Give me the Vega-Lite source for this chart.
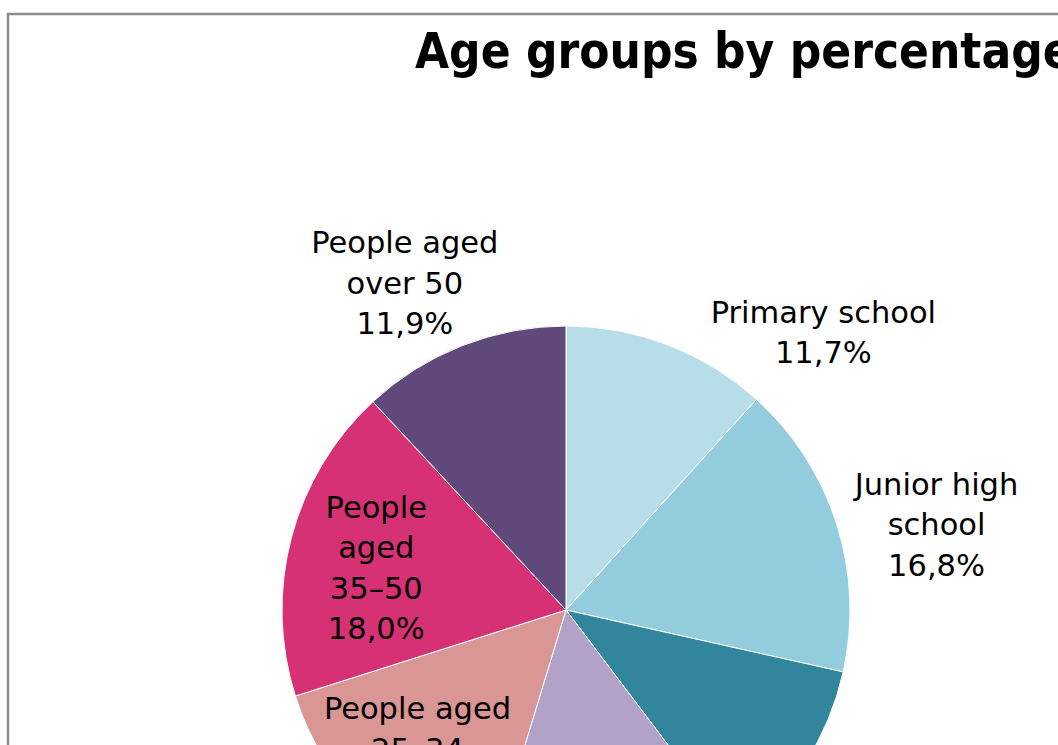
{
  "$schema": "https://vega.github.io/schema/vega-lite/v6.json",
  "autosize": {"type": "none"},
  "padding": {"left": 8, "top": 14, "right": -66, "bottom": -461},
  "width": 1116,
  "height": 1192,
  "background": "white",
  "view": {"stroke": "#8c8c8c", "strokeWidth": 2.5, "fill": "white"},
  "title": {
    "text": "Age groups by percentage",
    "anchor": "start",
    "frame": "group",
    "offset": 0,
    "dx": 407,
    "dy": 103,
    "baseline": "alphabetic",
    "font": "DejaVu Sans Condensed",
    "fontWeight": "bold",
    "fontSize": 49,
    "color": "black"
  },
  "data": {
    "values": [
      {"group": "Primary school", "value": 11.7, "label": "Primary school\n11,7%"},
      {"group": "Junior high school", "value": 16.8, "label": "Junior high\nschool\n16,8%"},
      {"group": "High school", "value": 11.2, "label": "High school\n11,2%"},
      {"group": "People aged 18–24", "value": 15.0, "label": "People aged\n18–24\n15,0%"},
      {"group": "People aged 25–34", "value": 15.4, "label": "People aged\n25–34\n15,4%"},
      {"group": "People aged 35–50", "value": 18.0, "label": "People\naged\n35–50\n18,0%"},
      {"group": "People aged over 50", "value": 11.9, "label": "People aged\nover 50\n11,9%"}
    ]
  },
  "transform": [{"window": [{"op": "row_number", "as": "idx"}]}],
  "encoding": {
    "theta": {"field": "value", "type": "quantitative", "stack": true},
    "order": {"field": "idx", "type": "quantitative"}
  },
  "layer": [
    {
      "mark": {"type": "arc", "radius": 284, "stroke": "white", "strokeWidth": 1},
      "encoding": {
        "color": {
          "field": "group",
          "type": "nominal",
          "scale": {
            "domain": ["Primary school", "Junior high school", "High school", "People aged 18–24", "People aged 25–34", "People aged 35–50", "People aged over 50"],
            "range": ["#B7DEE8", "#93CDDD", "#31859C", "#B3A2C7", "#D99694", "#D63174", "#604A7B"]
          },
          "legend": null
        }
      }
    },
    {
      "mark": {"type": "text", "radius": 310, "dx": 146, "dy": -7, "align": "center", "baseline": "middle", "lineBreak": "\n", "font": "DejaVu Sans", "fontSize": 30.5, "lineHeight": 40.5, "fill": "black"},
      "encoding": {
        "detail": {"field": "group", "type": "nominal"},
        "text": {"condition": {"test": "datum.group === 'Primary school'", "field": "label", "type": "nominal"}, "value": ""}
      }
    },
    {
      "mark": {"type": "text", "radius": 350, "dx": 37, "dy": -18, "align": "center", "baseline": "middle", "lineBreak": "\n", "font": "DejaVu Sans", "fontSize": 30.5, "lineHeight": 40.5, "fill": "black"},
      "encoding": {
        "detail": {"field": "group", "type": "nominal"},
        "text": {"condition": {"test": "datum.group === 'Junior high school'", "field": "label", "type": "nominal"}, "value": ""}
      }
    },
    {
      "mark": {"type": "text", "radius": 520, "align": "center", "baseline": "middle", "lineBreak": "\n", "font": "DejaVu Sans", "fontSize": 30.5, "lineHeight": 40.5, "fill": "black"},
      "encoding": {
        "detail": {"field": "group", "type": "nominal"},
        "text": {"condition": {"test": "datum.group === 'High school' || datum.group === 'People aged 18–24'", "field": "label", "type": "nominal"}, "value": ""}
      }
    },
    {
      "mark": {"type": "text", "radius": 200, "dx": -8, "dy": -42, "align": "center", "baseline": "middle", "lineBreak": "\n", "font": "DejaVu Sans", "fontSize": 30.5, "lineHeight": 40.5, "fill": "black"},
      "encoding": {
        "detail": {"field": "group", "type": "nominal"},
        "text": {"condition": {"test": "datum.group === 'People aged 25–34'", "field": "label", "type": "nominal"}, "value": ""}
      }
    },
    {
      "mark": {"type": "text", "radius": 190, "dx": -6, "dy": -53, "align": "center", "baseline": "middle", "lineBreak": "\n", "font": "DejaVu Sans", "fontSize": 30.5, "lineHeight": 40.5, "fill": "black"},
      "encoding": {
        "detail": {"field": "group", "type": "nominal"},
        "text": {"condition": {"test": "datum.group === 'People aged 35–50'", "field": "label", "type": "nominal"}, "value": ""}
      }
    },
    {
      "mark": {"type": "text", "radius": 340, "dx": -37, "dy": -49, "align": "center", "baseline": "middle", "lineBreak": "\n", "font": "DejaVu Sans", "fontSize": 30.5, "lineHeight": 40.5, "fill": "black"},
      "encoding": {
        "detail": {"field": "group", "type": "nominal"},
        "text": {"condition": {"test": "datum.group === 'People aged over 50'", "field": "label", "type": "nominal"}, "value": ""}
      }
    }
  ]
}
